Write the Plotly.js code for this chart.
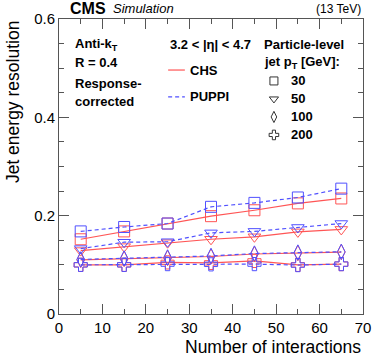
<!DOCTYPE html>
<html>
<head>
<meta charset="utf-8">
<script src="https://cdn.plot.ly/plotly-3.0.1.min.js"></script>
<style>
  html, body { margin: 0; padding: 0; background: #fff; }
  #plot { width: 374px; height: 363px; }
</style>
</head>
<body>
<div id="plot"></div>
<script>
document.addEventListener("DOMContentLoaded", function() {

  const nInteractions = [5, 15, 25, 35, 45, 55, 65];

  // jet energy resolution, CHS vs PUPPI, per particle-level jet pT bin
  const chs30 = [0.152, 0.168, 0.184, 0.199, 0.211, 0.225, 0.235];
  const puppi30 = [0.168, 0.177, 0.184, 0.218, 0.226, 0.237, 0.255];
  const chs50 = [0.129, 0.137, 0.145, 0.152, 0.157, 0.167, 0.172];
  const puppi50 = [0.133, 0.146, 0.147, 0.165, 0.168, 0.176, 0.184];
  const chs100 = [0.110, 0.112, 0.114, 0.117, 0.122, 0.124, 0.126];
  const puppi100 = [0.111, 0.113, 0.115, 0.118, 0.123, 0.125, 0.1265];
  const chs200 = [0.100, 0.100, 0.105, 0.104, 0.108, 0.100, 0.1015];
  const puppi200 = [0.100, 0.100, 0.1015, 0.101, 0.1015, 0.0995, 0.1015];

  const ptLabels = ['30', '50', '100', '200'];
  const symbols = ['square-open', 'triangle-down-open', 'diamond-tall-open', 'cross-open'];

  const red = 'rgb(255,85,85)';
  const blue = 'rgb(80,80,255)';
  const font = 'Liberation Sans, Arial, sans-serif';

  const chsSets = [chs30, chs50, chs100, chs200];
  const puppiSets = [puppi30, puppi50, puppi100, puppi200];

  const data = [];
  chsSets.forEach(function(ys, i) {
    data.push({
      x: nInteractions, y: ys, type: 'scatter', mode: 'lines+markers',
      line: {color: red, width: 1.2},
      marker: {symbol: symbols[i], size: 11, color: red, line: {width: 1, color: red}},
      showlegend: false
    });
  });
  puppiSets.forEach(function(ys, i) {
    data.push({
      x: nInteractions, y: ys, type: 'scatter', mode: 'lines+markers',
      line: {color: blue, width: 1.2, dash: '4px,3px'},
      marker: {symbol: symbols[i], size: 11, color: blue, line: {width: 1, color: blue}},
      showlegend: false
    });
  });

  // legend marker keys on a hidden overlay axis
  const keyX = [0.707, 0.707, 0.707, 0.707];
  const keyY = [0.790, 0.729, 0.668, 0.607];
  data.push({
    x: keyX, y: keyY, xaxis: 'x2', yaxis: 'y2',
    type: 'scatter', mode: 'markers',
    marker: {symbol: symbols, size: 8, color: '#333', line: {width: 1, color: '#333'}},
    showlegend: false, hoverinfo: 'skip', cliponaxis: false
  });

  const axisCommon = {
    showline: true, mirror: 'ticks', linecolor: '#555', linewidth: 1,
    ticks: 'inside', ticklen: 10, tickcolor: '#555', tickwidth: 1,
    showgrid: false, zeroline: false,
    tickfont: {family: font, size: 15, color: '#000'}
  };

  function note(text, x, y, size, extra) {
    return Object.assign({
      text: text, x: x, y: y, xref: 'paper', yref: 'paper',
      xanchor: 'left', yanchor: 'middle', showarrow: false,
      font: {family: font, size: size, color: '#000'}
    }, extra || {});
  }

  const annotations = [
    note('<b>CMS</b>', 0.03, 1.035, 16),
    note('<i>Simulation</i>', 0.17, 1.035, 13),
    note('(13 TeV)', 1.0, 1.035, 12, {xanchor: 'right'}),
    note('Number of interactions', 1.0, -0.112, 17.5, {xanchor: 'right'}),
    note('Jet energy resolution', -0.151, 1.0, 17.5, {xanchor: 'center', yanchor: 'top', textangle: -90}),
    note('<b>Anti-k<sub>T</sub></b>', 0.046, 0.915, 13),
    note('<b>R = 0.4</b>', 0.046, 0.851, 13),
    note('<b>Response-</b>', 0.046, 0.783, 13),
    note('<b>corrected</b>', 0.046, 0.722, 13),
    note('<b>3.2 < |η| < 4.7</b>', 0.359, 0.915, 13),
    note('<b>CHS</b>', 0.424, 0.827, 13),
    note('<b>PUPPI</b>', 0.424, 0.736, 13),
    note('<b>Particle-level</b>', 0.668, 0.915, 13),
    note('<b>jet p<sub>T</sub> [GeV]:</b>', 0.668, 0.854, 13)
  ];
  ptLabels.forEach(function(lbl, i) {
    annotations.push(note('<b>' + lbl + '</b>', 0.758, keyY[i], 13));
  });

  const layout = {
    width: 374, height: 363,
    margin: {l: 59, r: 11, t: 19, b: 49},
    paper_bgcolor: '#fff', plot_bgcolor: '#fff',
    xaxis: Object.assign({}, axisCommon, {
      range: [0, 70], dtick: 10, tick0: 0,
      minor: {dtick: 5, ticks: 'inside', ticklen: 5, tickcolor: '#555'}
    }),
    yaxis: Object.assign({}, axisCommon, {
      range: [0, 0.6], dtick: 0.2, tick0: 0,
      minor: {dtick: 0.05, ticks: 'inside', ticklen: 5, tickcolor: '#555'}
    }),
    xaxis2: {overlaying: 'x', range: [0, 1], visible: false, fixedrange: true},
    yaxis2: {overlaying: 'y', range: [0, 1], visible: false, fixedrange: true},
    annotations: annotations,
    shapes: [
      {type: 'line', xref: 'paper', yref: 'paper', x0: 0.359, x1: 0.414, y0: 0.827, y1: 0.827,
        line: {color: red, width: 1.2}},
      {type: 'line', xref: 'paper', yref: 'paper', x0: 0.359, x1: 0.414, y0: 0.736, y1: 0.736,
        line: {color: blue, width: 1.2, dash: '4px,3px'}}
    ]
  };

  Plotly.newPlot('plot', data, layout, {staticPlot: true, displayModeBar: false});
});
</script>
</body>
</html>
